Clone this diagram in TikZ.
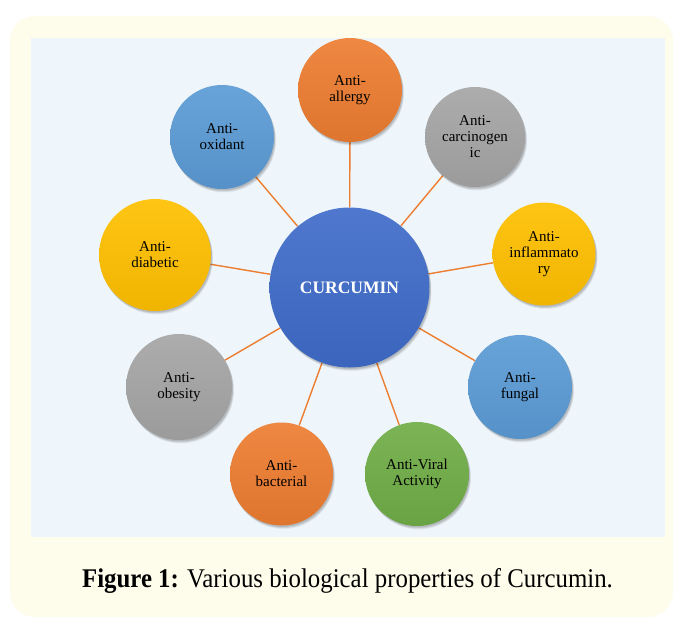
\documentclass[tikz,border=0pt]{standalone}
\usepackage{fontspec}
\setmainfont{Liberation Serif}
\newfontfamily\capfont[FakeStretch=0.92]{Liberation Serif}
\definecolor{cream}{HTML}{FEFCEB}
\definecolor{paleblue}{HTML}{EEF6FB}
\definecolor{corange}{HTML}{ED7D31}
\definecolor{cblue}{HTML}{5B9BD5}
\definecolor{cgray}{HTML}{A5A5A5}
\definecolor{cyellow}{HTML}{FFC000}
\definecolor{cgreen}{HTML}{70AD47}
\definecolor{cdark}{HTML}{3F6CC9}
\definecolor{linecol}{HTML}{ED7D31}
\pgfdeclarelayer{back}
\pgfdeclarelayer{lines}
\pgfsetlayers{back,lines,main}
\tikzset{
  bub/.style={circle, inner sep=0pt, align=center, text=black,
    font=\fontsize{15}{16}\selectfont,
    preaction={fill=black, opacity=0.06, transform canvas={xshift=2pt, yshift=-3.5pt, scale=1.0}},
    preaction={fill=black, opacity=0.10, transform canvas={xshift=1.5pt, yshift=-2.5pt}},
    preaction={fill=black, opacity=0.10, transform canvas={xshift=1pt, yshift=-1.5pt}}},
  fillc/.style={top color=#1!92!white, bottom color=#1!94!black},
  spoke/.style={draw=linecol, line width=1.4pt}
}
\begin{document}
\begin{tikzpicture}[x=1pt,y=-1pt]
\begin{pgfonlayer}{back}
\fill[white] (0,0) rectangle (675,619);
\fill[cream, rounded corners=25pt] (10,16) rectangle (673,617);
\fill[paleblue] (31,38) rectangle (665,537);
\end{pgfonlayer}
\useasboundingbox (0,0) rectangle (675,619);

\node[bub, fillc=cdark, minimum size=160pt, text=white, font=\bfseries\fontsize{17.5}{20}\selectfont] (cur) at (349.5,287.5) {CURCUMIN};

\node[bub, fillc=corange, minimum size=104pt] (all) at (350,90) {Anti-\\allergy};
\node[bub, fillc=cgray, minimum size=100pt] (car) at (475,137) {Anti-\\carcinogen\\ic};
\node[bub, fillc=cyellow, minimum size=103pt] (inf) at (544,254) {Anti-\\inflammato\\ry};
\node[bub, fillc=cblue, minimum size=104pt] (fun) at (520,387) {Anti-\\fungal};
\node[bub, fillc=cgreen, minimum size=104pt] (vir) at (417,474) {Anti-Viral\\Activity};
\node[bub, fillc=corange, minimum size=103pt] (bac) at (281.5,474) {Anti-\\bacterial};
\node[bub, fillc=cgray, minimum size=106pt] (obe) at (179,387) {Anti-\\obesity};
\node[bub, fillc=cyellow, minimum size=112pt] (dia) at (155,255) {Anti-\\diabetic};
\node[bub, fillc=cblue, minimum size=104pt] (oxi) at (222,137) {Anti-\\oxidant};

\begin{pgfonlayer}{lines}
\foreach \t in {all,car,inf,fun,vir,bac,obe,dia,oxi}
  \draw[spoke] (cur) -- (\t);
\end{pgfonlayer}

\node[anchor=base, inner sep=0pt] (cap) at (347.5,587.5)
  {\capfont\fontsize{27}{30}\selectfont\textbf{Figure 1:} Various biological properties of Curcumin.};
\end{tikzpicture}
\end{document}
